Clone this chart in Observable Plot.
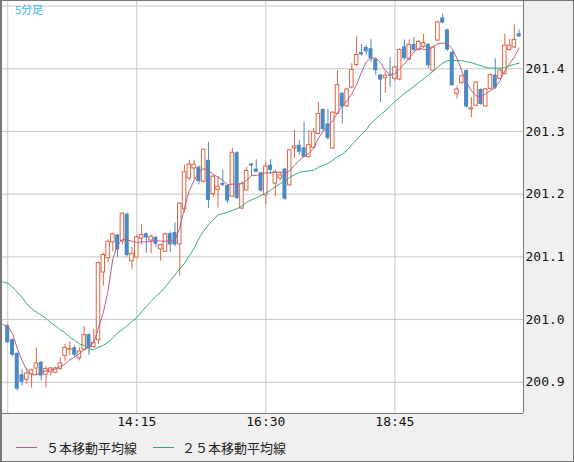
<!DOCTYPE html>
<html><head><meta charset="utf-8">
<script src="https://cdn.jsdelivr.net/npm/d3@7"></script>
<script src="https://cdn.jsdelivr.net/npm/@observablehq/plot@0.6"></script>
<style>
html,body{margin:0;padding:0;background:#fff;}
#wrap{position:relative;width:574px;height:462px;background:#f0f0f0;overflow:hidden;}
#chart{position:absolute;left:0;top:0;}
#border{position:absolute;left:0;top:0;width:574px;height:462px;box-sizing:border-box;border:1px solid #787878;border-left-width:2px;pointer-events:none;}
#tf{position:absolute;left:15px;top:2px;font-size:11px;line-height:14px;font-family:"Noto Sans CJK JP";color:#3cb4e6;}
.sw{position:absolute;top:447px;width:21px;height:1px;}
.lg{position:absolute;top:439px;font-size:13px;line-height:17px;font-family:"Noto Sans CJK JP";color:#222;}
</style></head><body>
<div id="wrap">
  <div id="chart"></div>
  <div id="tf"></div>
  <div class="sw" id="sw1" style="left:16px"></div><div class="lg" id="lg1" style="left:46px"></div>
  <div class="sw" id="sw2" style="left:153px"></div><div class="lg" id="lg2" style="left:182px"></div>
  <div id="border"></div>
</div>
<script>
// ---- data (5-minute candles starting 12:00) ----
const timeframe = "5分足";
const open = [200.990,200.968,200.946,200.912,200.904,200.913,200.922,200.932,200.912,200.916,
200.915,200.921,200.942,200.952,200.955,200.938,200.952,200.976,200.956,200.967,
201.075,201.098,201.123,201.135,201.125,201.168,201.093,201.099,201.129,201.137,
201.126,201.131,201.112,201.108,201.137,201.139,201.120,201.176,201.225,201.241,
201.243,201.220,201.254,201.200,201.207,201.217,201.214,201.196,201.266,201.177,
201.206,201.248,201.240,201.234,201.198,201.246,201.217,201.225,201.240,201.214,
201.273,201.278,201.274,201.259,201.274,201.296,201.335,201.312,201.273,201.328,
201.361,201.340,201.370,201.406,201.426,201.434,201.432,201.415,201.390,201.385,
201.390,201.384,201.383,201.435,201.415,201.439,201.430,201.435,201.439,201.397,
201.445,201.481,201.462,201.426,201.360,201.377,201.397,201.335,201.341,201.367,
201.340,201.368,201.390,201.384,201.392,201.430,201.434,201.456];
const high = [200.992,200.969,200.947,200.920,200.921,200.921,200.955,200.933,200.925,200.924,
200.924,200.938,200.960,200.964,200.958,200.955,200.989,200.977,200.984,201.092,
201.106,201.127,201.138,201.136,201.170,201.170,201.115,201.134,201.151,201.138,
201.135,201.133,201.120,201.138,201.140,201.154,201.186,201.246,201.254,201.254,
201.245,201.272,201.283,201.230,201.228,201.238,201.215,201.273,201.268,201.220,
201.243,201.249,201.255,201.235,201.251,201.255,201.239,201.235,201.241,201.271,
201.302,201.285,201.315,201.302,201.305,201.346,201.336,201.335,201.331,201.397,
201.362,201.368,201.408,201.451,201.439,201.437,201.447,201.416,201.391,201.395,
201.418,201.405,201.432,201.446,201.446,201.450,201.445,201.455,201.440,201.436,
201.476,201.487,201.463,201.428,201.372,201.390,201.398,201.354,201.380,201.368,
201.369,201.392,201.416,201.400,201.455,201.447,201.470,201.462];
const low = [200.962,200.941,200.886,200.894,200.897,200.891,200.911,200.902,200.891,200.910,
200.914,200.920,200.933,200.943,200.940,200.934,200.950,200.943,200.954,200.960,
201.053,201.091,201.108,201.099,201.119,201.100,201.080,201.098,201.119,201.106,
201.105,201.115,201.093,201.107,201.107,201.116,201.069,201.170,201.222,201.222,
201.215,201.218,201.177,201.195,201.178,201.212,201.185,201.195,201.192,201.175,
201.205,201.230,201.234,201.203,201.183,201.232,201.196,201.221,201.190,201.213,
201.257,201.262,201.258,201.258,201.272,201.295,201.300,201.286,201.272,201.327,
201.312,201.338,201.368,201.403,201.420,201.422,201.410,201.389,201.346,201.361,
201.370,201.380,201.381,201.414,201.413,201.428,201.428,201.432,201.400,201.396,
201.444,201.472,201.428,201.372,201.352,201.375,201.337,201.322,201.340,201.341,
201.339,201.366,201.367,201.382,201.390,201.428,201.432,201.450];
const close = [200.963,200.943,200.889,200.900,200.914,200.919,200.930,200.910,200.921,200.922,
200.922,200.930,200.955,200.953,200.943,200.949,200.975,200.954,200.963,201.090,
201.103,201.124,201.136,201.111,201.169,201.102,201.105,201.131,201.135,201.130,
201.132,201.120,201.119,201.136,201.119,201.119,201.185,201.235,201.247,201.247,
201.220,201.271,201.190,201.228,201.212,201.214,201.189,201.266,201.193,201.216,
201.237,201.245,201.235,201.205,201.244,201.238,201.235,201.230,201.192,201.270,
201.276,201.267,201.259,201.278,201.299,201.328,201.303,201.289,201.330,201.374,
201.339,201.367,201.398,201.422,201.422,201.427,201.416,201.397,201.382,201.389,
201.388,201.402,201.430,201.416,201.438,201.429,201.443,201.441,201.405,201.434,
201.474,201.473,201.430,201.373,201.367,201.388,201.339,201.337,201.378,201.343,
201.367,201.390,201.369,201.397,201.437,201.437,201.446,201.451];
// moving averages, first value belongs to the bar before 12:00
const ma5 = [200.992,200.989,200.978,200.954,200.935,200.919,200.912,200.912,200.916,200.918,
200.920,200.921,200.925,200.929,200.936,200.940,200.946,200.952,200.956,200.963,
200.987,201.011,201.046,201.097,201.119,201.128,201.127,201.125,201.123,201.124,
201.124,201.125,201.126,201.125,201.125,201.125,201.127,201.146,201.179,201.206,
201.222,201.235,201.241,201.237,201.232,201.227,201.222,201.215,201.216,201.216,
201.217,201.222,201.230,201.230,201.232,201.234,201.234,201.235,201.235,201.234,
201.237,201.246,201.254,201.260,201.265,201.273,201.289,201.300,201.308,201.317,
201.330,201.340,201.349,201.360,201.375,201.394,201.411,201.417,201.417,201.410,
201.397,201.391,201.392,201.400,201.408,201.417,201.427,201.433,201.431,201.430,
201.435,201.440,201.441,201.440,201.432,201.416,201.397,201.378,201.365,201.357,
201.355,201.360,201.365,201.370,201.381,201.397,201.408,201.419,201.433];
const ma25 = [201.060,201.058,201.052,201.044,201.035,201.025,201.017,201.012,201.007,201.002,
200.995,200.990,200.984,200.979,200.972,200.967,200.961,200.959,200.953,200.952,
200.956,200.959,200.964,200.971,200.979,200.984,200.990,200.997,201.003,201.012,
201.021,201.029,201.037,201.044,201.052,201.062,201.071,201.081,201.090,201.102,
201.114,201.129,201.141,201.151,201.159,201.167,201.169,201.171,201.174,201.177,
201.181,201.187,201.191,201.194,201.198,201.202,201.206,201.212,201.217,201.221,
201.227,201.231,201.235,201.236,201.237,201.238,201.243,201.246,201.249,201.254,
201.260,201.264,201.270,201.279,201.287,201.295,201.303,201.313,201.320,201.327,
201.333,201.340,201.348,201.354,201.361,201.366,201.372,201.378,201.384,201.390,
201.396,201.403,201.409,201.413,201.413,201.413,201.413,201.411,201.410,201.407,
201.405,201.402,201.401,201.401,201.401,201.402,201.405,201.407,201.409];
const xTickBars = [27, 54, 81];
const xTickLabels = ["14:15", "16:30", "18:45"];
const xGridBars = [0, 27, 54, 81];
const yTicks = [200.9, 201.0, 201.1, 201.2, 201.3, 201.4];
const yGrid = [200.9, 201.0, 201.1, 201.2, 201.3, 201.4, 201.5];
const seriesNames = ["５本移動平均線", "２５本移動平均線"];

// ---- styles ----
const UP = "#dc6645", DOWN = "#4a89c4", MA5C = "#b4608e", MA25C = "#2fae74", GRID = "#c8c8c8", EDGE = "#787878";
const X0 = -1.088, X1 = 107.91, Y0 = 200.8502, Y1 = 201.5073;

const bars = open.map((o, i) => ({i, o, h: high[i], l: low[i], c: close[i]}));
const ups = bars.filter(d => d.c >= d.o), downs = bars.filter(d => d.c < d.o);
const ma5Rows = ma5.map((v, k) => ({i: k - 1, v}));
const ma25Rows = ma25.map((v, k) => ({i: k - 1, v}));

const chart = Plot.plot({
  width: 574, height: 440,
  marginLeft: 2, marginRight: 51, marginTop: 1, marginBottom: 27,
  x: {domain: [X0, X1], axis: null},
  y: {domain: [Y0, Y1], axis: null},
  style: {background: "transparent", overflow: "visible"},
  marks: [
    Plot.frame({fill: "#fff", stroke: null}),
    Plot.ruleY(yGrid, {stroke: GRID}),
    Plot.ruleX(xGridBars, {stroke: GRID}),
    Plot.ruleX(bars, {x: "i", y1: "l", y2: "h", stroke: d => d.c >= d.o ? UP : DOWN}),
    Plot.rect(downs, {x1: d => d.i - 0.42, x2: d => d.i + 0.42, y1: "o", y2: "c", fill: DOWN}),
    Plot.rect(ups, {x1: d => d.i - 0.37, x2: d => d.i + 0.37, y1: "o", y2: "c", fill: "#fff", stroke: UP}),
    Plot.line(ma25Rows, {x: "i", y: "v", stroke: MA25C, strokeWidth: 1, clip: true}),
    Plot.line(ma5Rows, {x: "i", y: "v", stroke: MA5C, strokeWidth: 1, clip: true}),
    Plot.ruleX([X1], {stroke: EDGE}),
    Plot.ruleY([Y0], {stroke: EDGE}),
    Plot.text(yTicks, {y: d => d, frameAnchor: "right", dx: 2, textAnchor: "start", text: d => d.toFixed(1),
      fontFamily: "DejaVu Sans Mono", fontSize: 13, fill: "#111"}),
    Plot.text(xTickBars, {x: d => d, frameAnchor: "bottom", dy: 12, text: (d, k) => xTickLabels[k],
      fontFamily: "DejaVu Sans Mono", fontSize: 13, fill: "#111"})
  ]
});
document.getElementById("chart").appendChild(chart);
document.getElementById("tf").textContent = timeframe;
document.getElementById("sw1").style.background = MA5C;
document.getElementById("sw2").style.background = MA25C;
document.getElementById("lg1").textContent = seriesNames[0];
document.getElementById("lg2").textContent = seriesNames[1];
</script>
</body></html>
